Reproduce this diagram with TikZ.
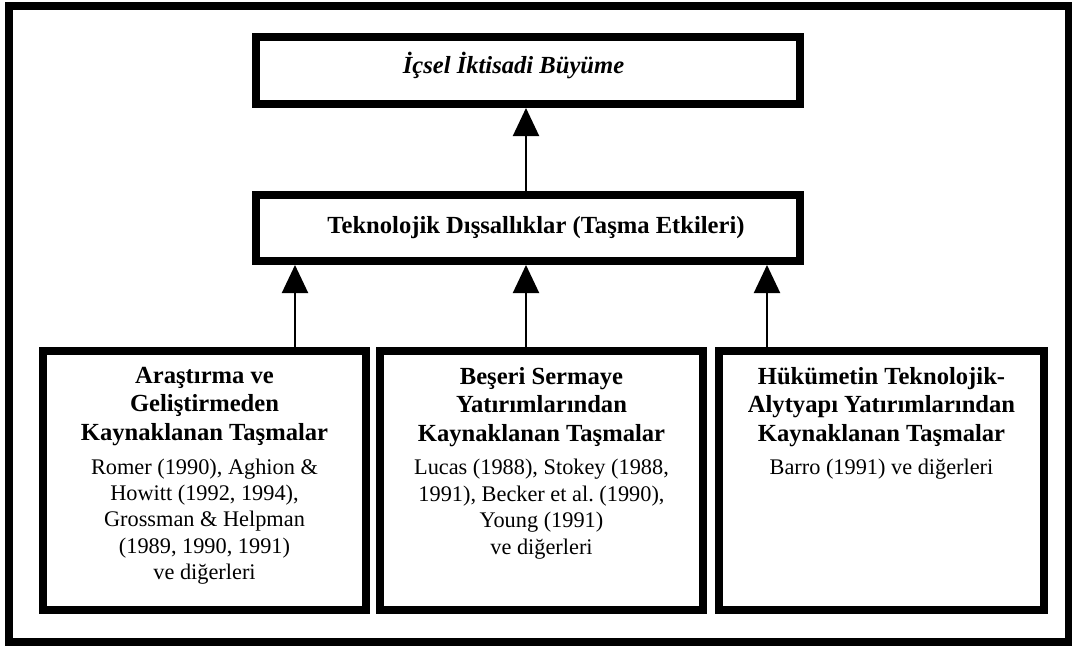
\documentclass[tikz,border=0pt]{standalone}
\usepackage{fontspec}
\setmainfont{Liberation Serif}
\usetikzlibrary{arrows.meta}

\newcommand\boxtext[2]{\parbox[c][4.54cm][t]{6.3cm}{\centering
  {\fontsize{14}{16.2}\selectfont\bfseries #1\par}\vspace{4.3pt}
  {\fontsize{12.7}{15}\selectfont #2\par}}}

\begin{document}
\begin{tikzpicture}[box/.style={draw, line width=0.16cm, inner sep=0pt},
                    bot/.style={box, minimum width=6.46cm, minimum height=5.18cm},
                    arr/.style={-{Triangle[length=0.56cm, width=0.52cm]}, line width=0.04cm}]
  \useasboundingbox (0,0) rectangle (21.44,12.92);
  \draw[line width=0.16cm] (0.18,0.08) rectangle (21.38,12.80);
  \path node (B) at (10.56,11.51) [box, minimum width=10.88cm, minimum height=1.34cm,
                                   text height=0.3cm, text depth=0.2cm]
             {\fontsize{14}{16}\selectfont\bfseries\itshape İçsel İktisadi Büyüme\hspace*{0.58cm}}
        node (T) at (10.56,8.36) [box, minimum width=10.88cm, minimum height=1.32cm]
             {\fontsize{14}{16}\selectfont\bfseries\hspace*{0.32cm}Teknolojik Dışsallıklar (Taşma Etkileri)}
        node (A) at (4.09,3.31) [bot]
             {\boxtext{Araştırma ve\\ Geliştirmeden\\ Kaynaklanan Taşmalar}
                      {Romer (1990), Aghion \&\\ Howitt (1992, 1994),\\ Grossman \& Helpman\\ (1989, 1990, 1991)\\ ve diğerleri}}
        node (S) at (10.83,3.31) [bot]
             {\boxtext{Beşeri Sermaye\\ Yatırımlarından\hspace*{0.5cm}\\ Kaynaklanan Taşmalar}
                      {Lucas (1988), Stokey (1988,\\ 1991), Becker et al.\ (1990),\\ Young (1991)\\ ve diğerleri}}
        node (H) at (17.63,3.31) [bot, minimum width=6.50cm]
             {\boxtext{Hükümetin Teknolojik-\\ Alytyapı Yatırımlarından\hspace*{0.5cm}\\ Kaynaklanan Taşmalar}
                      {Barro (1991) ve diğerleri}};
  \draw[arr] (T.north -| 10.52,0) -- (B.south -| 10.52,0);
  \foreach \n/\x in {A/5.90, S/10.52, H/15.34}
    \draw[arr] (\n.north -| \x,0) -- (T.south -| \x,0);
\end{tikzpicture}
\end{document}
